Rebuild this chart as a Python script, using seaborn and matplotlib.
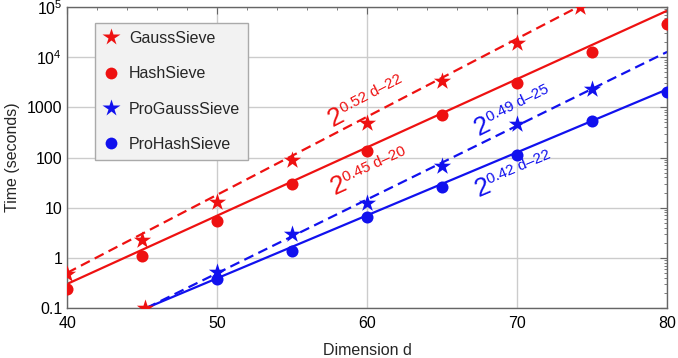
import numpy as np
import pandas as pd
import matplotlib
matplotlib.use('Agg')
import matplotlib.pyplot as plt
import matplotlib.ticker as ticker
from matplotlib.lines import Line2D
import seaborn as sns

# measured running times (seconds) vs dimension d
gauss_d = [40, 45, 50, 55, 60, 65, 70]
gauss_t = [0.48, 2.27, 12.8, 89, 480, 3350, 19400]
hash_d = [40, 45, 50, 55, 60, 65, 70, 75, 80]
hash_t = [0.236, 1.09, 5.42, 29.7, 136, 703, 3000, 12500, 45900]
pgauss_d = [50, 55, 60, 65, 70, 75]
pgauss_t = [0.53, 2.94, 12.2, 68.7, 465, 2317]
phash_d = [50, 55, 60, 65, 70, 75, 80]
phash_t = [0.378, 1.39, 6.43, 26.2, 112, 533, 2050]

# stray red star markers sitting on the frame edges
edge_d = [45.2, 74.2]
edge_t = [0.1, 1e5]

# fitted lines, end points
fit_gauss_d, fit_gauss_t = [40, 80], [0.5, 850000]
fit_hash_d, fit_hash_t = [40, 80], [0.30, 85000]
fit_pgauss_d, fit_pgauss_t = [45.3, 80], [0.1, 12800]
fit_phash_d, fit_phash_t = [45.3, 80], [0.1, 2290]

fit_exponents = ['0.52 d\u201322', '0.45 d\u201320', '0.49 d\u201325', '0.42 d\u201322']

ytick_vals = [0.1, 1, 10, 100, 1000, 1e4, 1e5]
ytick_text = ['0.1', '1', '10', '100', '1000', r'$10^4$', r'$10^5$']

RED = '#ee1111'
BLUE = '#1111ee'

sns.set_style('white')
plt.rcParams['font.family'] = ['Liberation Sans', 'DejaVu Sans']
plt.rcParams['mathtext.default'] = 'regular'

fig, ax = plt.subplots(figsize=(6.78, 3.58), dpi=100)
fig.subplots_adjust(left=0.099, right=0.984, top=0.980, bottom=0.140)

# fit lines
dash = (0, (4.5, 2.5))
sns.lineplot(x=fit_gauss_d, y=fit_gauss_t, ax=ax, color=RED, lw=1.6, linestyle=dash)
sns.lineplot(x=fit_hash_d, y=fit_hash_t, ax=ax, color=RED, lw=1.6)
sns.lineplot(x=fit_pgauss_d, y=fit_pgauss_t, ax=ax, color=BLUE, lw=1.6, linestyle=dash)
sns.lineplot(x=fit_phash_d, y=fit_phash_t, ax=ax, color=BLUE, lw=1.6)

# data points
sns.scatterplot(x=gauss_d, y=gauss_t, ax=ax, marker='*', s=170, color=RED, linewidth=0, zorder=3)
sns.scatterplot(x=edge_d, y=edge_t, ax=ax, marker='*', s=170, color=RED, linewidth=0, zorder=3)
sns.scatterplot(x=hash_d, y=hash_t, ax=ax, marker='o', s=75, color=RED, linewidth=0, zorder=3)
sns.scatterplot(x=pgauss_d, y=pgauss_t, ax=ax, marker='*', s=170, color=BLUE, linewidth=0, zorder=3)
sns.scatterplot(x=phash_d, y=phash_t, ax=ax, marker='o', s=75, color=BLUE, linewidth=0, zorder=3)

ax.set_yscale('log')
ax.set_xlim(40, 80)
ax.set_ylim(0.1, 1e5)

# fit formulas parallel to the lines: big "2" plus a raised exponent
label_pos = [(57.7, 400), (57.8, 18.0), (67.45, 275), (67.4, 16.5)]
label_rot = [27.6, 24.4, 26.3, 22.9]
label_col = [RED, RED, BLUE, BLUE]
for ex, (lx, ly), rot, c in zip(fit_exponents, label_pos, label_rot, label_col):
    ax.text(lx, ly, '2', color=c, fontsize=19, rotation=rot, rotation_mode='anchor',
            ha='left', va='baseline')
    a = np.deg2rad(rot)
    along, up = 11.0, 5.5
    off = (along * np.cos(a) - up * np.sin(a), along * np.sin(a) + up * np.cos(a))
    ax.annotate(ex, xy=(lx, ly), xytext=off, textcoords='offset points', color=c,
                fontsize=11, rotation=rot, rotation_mode='anchor', ha='left', va='baseline')

ax.xaxis.set_major_locator(ticker.MultipleLocator(10))
ax.xaxis.set_minor_locator(ticker.MultipleLocator(2))
ax.set_yticks(ytick_vals)
ax.set_yticklabels(ytick_text)
ax.yaxis.set_minor_locator(ticker.LogLocator(base=10, subs=np.arange(2, 10)))
ax.yaxis.set_minor_formatter(ticker.NullFormatter())

ax.tick_params(which='both', direction='in', top=True, right=True, color='#666666',
               labelsize=11.5, labelcolor='black')
ax.tick_params(which='major', length=5, width=0.8)
ax.tick_params(which='minor', length=2.5, width=0.6)
ax.tick_params(axis='x', pad=6)

ax.grid(True, which='major', color='#cccccc', lw=1)
for sp in ax.spines.values():
    sp.set_color('#666666')
    sp.set_linewidth(1)

ax.set_xlabel('Dimension d', fontsize=11.5, labelpad=8.5)
ax.set_ylabel('Time (seconds)', fontsize=11.5, labelpad=5)

handles = [
    Line2D([], [], ls='none', marker='*', ms=13, color=RED, mec='none'),
    Line2D([], [], ls='none', marker='o', ms=8.5, color=RED, mec='none'),
    Line2D([], [], ls='none', marker='*', ms=13, color=BLUE, mec='none'),
    Line2D([], [], ls='none', marker='o', ms=8.5, color=BLUE, mec='none'),
]
leg = ax.legend(handles, ['GaussSieve', 'HashSieve', 'ProGaussSieve', 'ProHashSieve'],
                loc='upper left', bbox_to_anchor=(0.047, 0.947), borderaxespad=0,
                fontsize=11.5, labelspacing=1.27, handletextpad=0.62, handlelength=1.0,
                borderpad=0.5, frameon=True, fancybox=False, framealpha=1)
leg.get_frame().set_facecolor('#f2f2f2')
leg.get_frame().set_edgecolor('#aaaaaa')

fig.savefig('out.png', dpi=100)
